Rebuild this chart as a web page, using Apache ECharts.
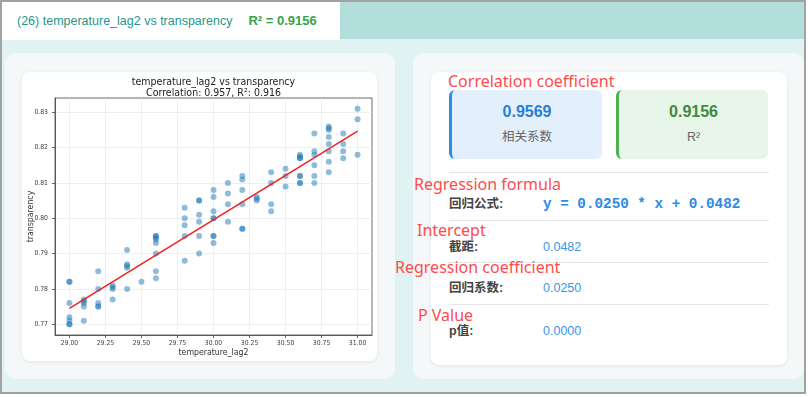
<!DOCTYPE html>
<html>
<head>
<meta charset="utf-8">
<script src="https://cdn.jsdelivr.net/npm/echarts@6.0.0/dist/echarts.min.js"></script>
<style>
  body { margin: 0; width: 808px; height: 397px; overflow: hidden; background: #fff;
         font-family: "Liberation Sans", "Noto Sans CJK SC", sans-serif; }
  .abs { position: absolute; box-sizing: border-box; }
  .frame { left: 0; top: 0; width: 806px; height: 394px; background: #e0f2f1; border: 2px solid #a2a2a2; }
  .tab { left: 2px; top: 2px; width: 338px; height: 38px; background: #fff; }
  .tabfill { left: 340px; top: 2px; width: 464px; height: 37px; background: #b2dfdb; }
  .tabtxt { left: 17px; top: 2px; height: 38px; line-height: 38px; font-size: 12.5px; color: #1f9688; white-space: nowrap; }
  .tabtxt b { color: #3aa14a; font-size: 13px; margin-left: 16px; }
  .panel { background: #f5f8f8; border-radius: 10px; }
  .card { background: #fff; border-radius: 8px; box-shadow: 0 1px 4px rgba(0,0,0,0.08); }
  .stat { border-radius: 6px; text-align: center; }
  .stat .v { position: absolute; left: 0; right: 0; top: 12px; font-size: 16px; font-weight: bold; line-height: 20px; }
  .stat .l { position: absolute; left: 0; right: 0; top: 38px; font-size: 12.5px; color: #666; line-height: 18px; }
  .hr { left: 449px; width: 320px; height: 1px; background: #e6e6e6; }
  .lab { left: 449px; font-size: 12.5px; font-weight: bold; color: #444; line-height: 16px; }
  .val { left: 543px; font-size: 12.5px; color: #3a96e6; line-height: 16px; }
  .mono { left: 543px; font-family: "Liberation Mono", monospace; font-weight: bold; font-size: 14.3px; color: #2d8be4; line-height: 18px; white-space: nowrap; }
  .note { font-family: "Noto Sans", sans-serif; font-size: 16px; color: #ff4b4b; line-height: 20px; white-space: nowrap; }
</style>
</head>
<body>
<div class="abs frame"></div>
<div class="abs tab"></div>
<div class="abs tabfill"></div>
<div class="abs tabtxt">(26) temperature_lag2 vs transparency<b>R² = 0.9156</b></div>

<div class="abs panel" style="left:5px;top:53px;width:390px;height:326px;"></div>
<div class="abs card" style="left:22px;top:72px;width:355px;height:289px;"></div>
<div id="chart" class="abs" style="left:22px;top:72px;width:355px;height:289px;"></div>

<div class="abs panel" style="left:413px;top:53px;width:391px;height:326px;"></div>
<div class="abs card" style="left:431px;top:72px;width:356px;height:293px;"></div>

<div class="abs stat" style="left:449px;top:90px;width:153px;height:69px;background:#e3f0fc;border-left:3px solid #2d8ee3;">
  <div class="v" style="color:#2a7ed2;">0.9569</div>
  <div class="l">相关系数</div>
</div>
<div class="abs stat" style="left:616px;top:90px;width:152px;height:69px;background:#e8f5e9;border-left:3px solid #4caf50;">
  <div class="v" style="color:#3d8b40;">0.9156</div>
  <div class="l">R²</div>
</div>

<div class="abs hr" style="top:172px;"></div>
<div class="abs lab" style="top:196px;">回归公式:</div>
<div class="abs mono" style="top:195px;">y = 0.0250 * x + 0.0482</div>
<div class="abs hr" style="top:220px;"></div>
<div class="abs lab" style="top:239px;">截距:</div>
<div class="abs val" style="top:239px;">0.0482</div>
<div class="abs hr" style="top:262px;"></div>
<div class="abs lab" style="top:280px;">回归系数:</div>
<div class="abs val" style="top:280px;">0.0250</div>
<div class="abs hr" style="top:304px;"></div>
<div class="abs lab" style="top:323px;">p值:</div>
<div class="abs val" style="top:323px;">0.0000</div>

<div class="abs note" style="left:448px;top:71px;">Correlation coefficient</div>
<div class="abs note" style="left:414px;top:174px;">Regression formula</div>
<div class="abs note" style="left:417px;top:220px;">Intercept</div>
<div class="abs note" style="left:395px;top:257px;">Regression coefficient</div>
<div class="abs note" style="left:418px;top:305px;">P Value</div>

<script>
// scatter points, one row per temperature_lag2 value
const temperatureLag2 = [
  29.0, 29.0, 29.0, 29.0, 29.0, 29.0, 29.0,
  29.1, 29.1, 29.1, 29.1, 29.1,
  29.2, 29.2, 29.2, 29.2, 29.2,
  29.3, 29.3, 29.3, 29.3,
  29.4, 29.4, 29.4, 29.4, 29.4,
  29.5,
  29.6, 29.6, 29.6, 29.6, 29.6, 29.6, 29.6, 29.6,
  29.8, 29.8, 29.8, 29.8, 29.8,
  29.9, 29.9, 29.9, 29.9, 29.9, 29.9,
  30.0, 30.0, 30.0, 30.0, 30.0, 30.0, 30.0, 30.0,
  30.1, 30.1, 30.1, 30.1,
  30.2, 30.2, 30.2, 30.2, 30.2, 30.2,
  30.3, 30.3, 30.3,
  30.4, 30.4, 30.4, 30.4,
  30.5, 30.5, 30.5,
  30.6, 30.6, 30.6, 30.6, 30.6, 30.6, 30.6, 30.6,
  30.7, 30.7, 30.7, 30.7, 30.7, 30.7,
  30.8, 30.8, 30.8, 30.8, 30.8, 30.8, 30.8, 30.8,
  30.9, 30.9, 30.9, 30.9,
  31.0, 31.0, 31.0
];
const transparency = [
  0.782, 0.782, 0.776, 0.772, 0.771, 0.770, 0.770,
  0.777, 0.7765, 0.776, 0.775, 0.771,
  0.785, 0.780, 0.776, 0.775, 0.775,
  0.781, 0.7805, 0.780, 0.777,
  0.791, 0.787, 0.7865, 0.786, 0.780,
  0.782,
  0.795, 0.795, 0.7945, 0.794, 0.793, 0.790, 0.785, 0.783,
  0.803, 0.800, 0.798, 0.795, 0.788,
  0.805, 0.805, 0.801, 0.799, 0.795, 0.790,
  0.808, 0.806, 0.802, 0.800, 0.800, 0.795, 0.795, 0.793,
  0.810, 0.807, 0.804, 0.799,
  0.812, 0.811, 0.808, 0.804, 0.797, 0.797,
  0.806, 0.8055, 0.805,
  0.813, 0.810, 0.804, 0.802,
  0.814, 0.812, 0.809,
  0.818, 0.8175, 0.817, 0.817, 0.812, 0.812, 0.810, 0.810,
  0.824, 0.819, 0.818, 0.815, 0.812, 0.810,
  0.826, 0.8255, 0.825, 0.823, 0.821, 0.819, 0.816, 0.813,
  0.824, 0.821, 0.819, 0.817,
  0.831, 0.828, 0.818
];
// fitted line end points
const fitX = [29.0, 31.0];
const fitY = [0.7745, 0.8247];
const xTicks = [29.0, 29.25, 29.5, 29.75, 30.0, 30.25, 30.5, 30.75, 31.0];
const yTicks = [0.77, 0.78, 0.79, 0.80, 0.81, 0.82, 0.83];

const narrow = '"Liberation Sans Narrow", "DejaVu Sans Condensed", sans-serif';
const points = temperatureLag2.map((x, i) => [x, transparency[i]]);
const fitLine = fitX.map((x, i) => [x, fitY[i]]);

const chart = echarts.init(document.getElementById('chart'), null, { renderer: 'canvas' });
chart.setOption({
  animation: false,
  backgroundColor: 'transparent',
  title: {
    text: 'temperature_lag2 vs transparency\nCorrelation: 0.957, R²: 0.916',
    left: 191.5, top: 5, padding: 0, textAlign: 'center',
    textStyle: { fontFamily: narrow, fontSize: 10.5, fontWeight: 'normal', color: '#222', lineHeight: 11 }
  },
  grid: {
    left: 33, top: 26, right: 5, bottom: 26, outerBoundsMode: 'none',
    show: true, borderColor: '#444', borderWidth: 0.8, backgroundColor: 'transparent'
  },
  xAxis: {
    type: 'value', min: 28.9, max: 31.1,
    name: 'temperature_lag2', nameLocation: 'middle', nameGap: 13, nameMoveOverlap: false,
    nameTextStyle: { fontFamily: narrow, fontSize: 8.7, color: '#333' },
    axisLine: { show: true, lineStyle: { color: '#444', width: 0.8 } },
    axisTick: { show: true, length: 3, customValues: xTicks, lineStyle: { color: '#444', width: 0.8 } },
    axisLabel: { customValues: xTicks, margin: 5, fontFamily: narrow, fontSize: 6.8, color: '#444',
                 formatter: v => v.toFixed(2) },
    splitLine: { show: true, lineStyle: { color: '#ebebeb', width: 0.8 } }
  },
  yAxis: {
    type: 'value', min: 0.76695, max: 0.83405,
    name: 'transparency', nameLocation: 'middle', nameGap: 20, nameMoveOverlap: false,
    nameTextStyle: { fontFamily: narrow, fontSize: 8.7, color: '#333' },
    axisLine: { show: true, lineStyle: { color: '#444', width: 0.8 } },
    axisTick: { show: true, length: 3, customValues: yTicks, lineStyle: { color: '#444', width: 0.8 } },
    axisLabel: { customValues: yTicks, margin: 7, fontFamily: narrow, fontSize: 6.8, color: '#444',
                 formatter: v => v.toFixed(2) },
    splitLine: { show: true, lineStyle: { color: '#ebebeb', width: 0.8 } }
  },
  series: [
    {
      type: 'scatter', data: points, symbolSize: 6,
      itemStyle: { color: 'rgba(31,119,180,0.62)' }
    },
    {
      type: 'line', data: fitLine, showSymbol: false, symbol: 'none',
      lineStyle: { color: '#f02020', width: 1.5 }, z: 3
    }
  ]
});
</script>
</body>
</html>
